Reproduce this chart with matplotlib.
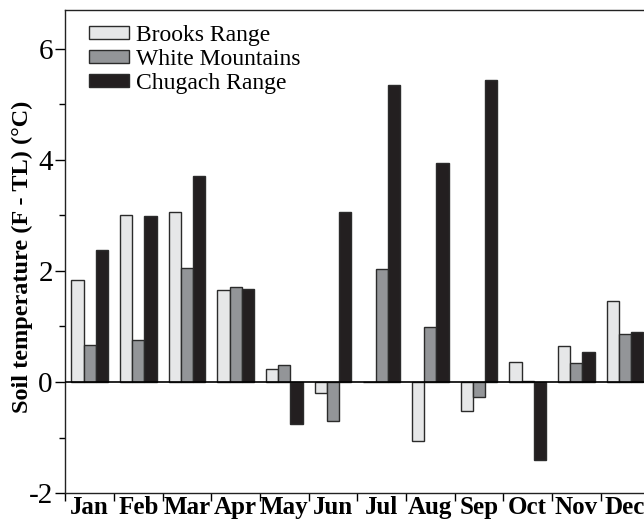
import numpy as np
import matplotlib
matplotlib.use('Agg')
from matplotlib import pyplot as plt

plt.rcParams['font.family'] = ['Liberation Serif', 'DejaVu Serif']

# Monthly soil temperature difference (forest minus treeline), degrees C
months = ['Jan', 'Feb', 'Mar', 'Apr', 'May', 'Jun',
          'Jul', 'Aug', 'Sep', 'Oct', 'Nov', 'Dec']
brooks = [1.83, 3.00, 3.07, 1.65, 0.24, -0.20, 0.00, -1.06, -0.52, 0.36, 0.64, 1.46]
white_mtns = [0.67, 0.76, 2.05, 1.71, 0.30, -0.70, 2.03, 0.99, -0.27, 0.02, 0.35, 0.87]
chugach = [2.38, 2.99, 3.71, 1.67, -0.76, 3.06, 5.35, 3.95, 5.44, -1.41, 0.54, 0.90]

series = [('Brooks Range', brooks, '#e6e7e8'),
          ('White Mountains', white_mtns, '#939598'),
          ('Chugach Range', chugach, '#231f20')]

fig = plt.figure(figsize=(6.44, 5.21), dpi=100)
ax = fig.add_axes([0.1014, 0.0537, 0.907, 0.927])

x = np.arange(len(months))
w = 0.25
for k, (name, vals, col) in enumerate(series):
    ax.bar(x + (k - 1) * w, vals, width=w, color=col,
           edgecolor='#2b2b2b', linewidth=1.0, label=name, zorder=2)

ax.axhline(0, color='black', linewidth=1.2, zorder=3)

ax.set_xlim(-0.5, 11.5)
ax.set_ylim(-2, 6.7)

# group separators as major ticks, month names on minor ticks
ax.set_xticks(np.arange(-0.5, 12.0, 1.0))
ax.set_xticklabels([])
ax.set_xticks(x, minor=True)
ax.set_xticklabels(months, minor=True, fontweight='bold', fontsize=18)
ax.tick_params(axis='x', which='major', length=6, width=1, direction='out')
ax.tick_params(axis='x', which='minor', length=0, pad=2)

ax.set_yticks([-2, 0, 2, 4, 6])
ax.set_yticklabels(['-2', '0', '2', '4', '6'], fontsize=21)
ax.set_yticks([-1, 1, 3, 5], minor=True)
ax.tick_params(axis='y', which='major', length=7, width=1, direction='out', pad=2)
ax.tick_params(axis='y', which='minor', length=4, width=1, direction='out')

ax.spines['right'].set_visible(False)
for s in ['left', 'top', 'bottom']:
    ax.spines[s].set_linewidth(1.0)
    ax.spines[s].set_color('#222222')

ax.set_ylabel('Soil temperature (F - TL) (°C)', fontsize=17.5, fontweight='bold')
ax.yaxis.set_label_coords(-0.056, 0.49)

ax.legend(loc='upper left', bbox_to_anchor=(0.012, 1.004), frameon=False,
          fontsize=17, handlelength=1.7, handleheight=0.45, labelspacing=0.13,
          handletextpad=0.3, borderaxespad=0.3)

fig.savefig('out.png', dpi=100)
